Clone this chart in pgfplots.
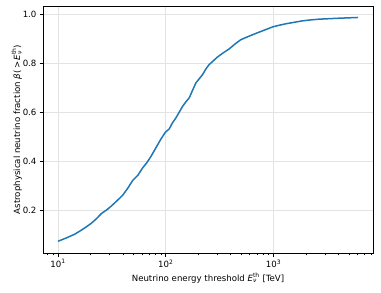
\documentclass[border=0pt]{standalone}
\usepackage{fontspec}
\setmainfont{DejaVu Sans}
\usepackage{pgfplots}
\pgfplotsset{compat=1.18}
\usetikzlibrary{calc}
\definecolor{tabblue}{HTML}{1F77B4}
\pgfplotstableread{
E beta
10 0.072
12 0.086
14.3 0.101
16.4 0.117
18.3 0.131
20.4 0.146
22.8 0.165
25.2 0.185
28.0 0.199
31.2 0.216
35.3 0.238
39.9 0.261
44.5 0.290
49.3 0.321
55.0 0.342
61.1 0.373
67.0 0.395
73 0.420
81 0.455
90 0.490
98.9 0.518
107.6 0.532
115 0.556
124 0.577
133 0.600
143 0.624
153 0.642
165 0.659
177 0.690
190 0.720
204 0.737
219 0.754
235 0.777
252 0.795
275 0.810
301 0.826
340 0.843
386 0.859
440 0.880
496 0.897
560 0.907
634 0.917
705 0.925
785 0.933
875 0.941
971 0.949
1120 0.956
1291 0.962
1540 0.968
1838 0.974
2200 0.978
2624 0.981
3250 0.983
4018 0.985
6053 0.988
}\datatable
\begin{document}
\fontsize{8.6}{10}\selectfont
\begin{tikzpicture}
\begin{semilogxaxis}[
  scale only axis, width=330pt, height=247pt,
  xmin=7.26, xmax=8350, ymin=0.024, ymax=1.035,
  xtick={10,100,1000},
  xticklabels={10\textsuperscript{1},10\textsuperscript{2},10\textsuperscript{3}},
  minor xtick={8,9,20,30,40,50,60,70,80,90,200,300,400,500,600,700,800,900,2000,3000,4000,5000,6000,7000,8000},
  ytick={0.2,0.4,0.6,0.8,1.0},
  yticklabel style={/pgf/number format/.cd,fixed,fixed zerofill,precision=1},
  /pgf/number format/assume math mode=true,
  tick pos=left, tick align=outside,
  major tick length=3.5pt, minor tick length=2pt,
  every tick/.style={black, line width=0.8pt},
  minor tick style={black, line width=0.6pt},
  axis line style={line width=0.8pt},
  grid=major, grid style={gray!22, line width=0.8pt},
  xlabel={Neutrino energy threshold $\mbox{\itshape E}^{\mbox{\fontsize{6}{6}\selectfont th}}_{\mbox{\fontsize{6}{6}\selectfont\itshape ν}}$ [TeV]},
  ylabel={Astrophysical neutrino fraction \textit{β}(\,>\,$\mbox{\itshape E}^{\mbox{\fontsize{6}{6}\selectfont th}}_{\mbox{\fontsize{6}{6}\selectfont\itshape ν}}$)},
  xlabel style={yshift=1pt},
  ylabel style={yshift=-5pt},
]
\addplot[tabblue, line width=1.5pt, mark=none] table[x=E, y=beta] {\datatable};
\end{semilogxaxis}
\path ($(current axis.south west)+(-43pt,-39pt)$) rectangle ($(current axis.north east)+(8pt,6pt)$);
\end{tikzpicture}
\end{document}
